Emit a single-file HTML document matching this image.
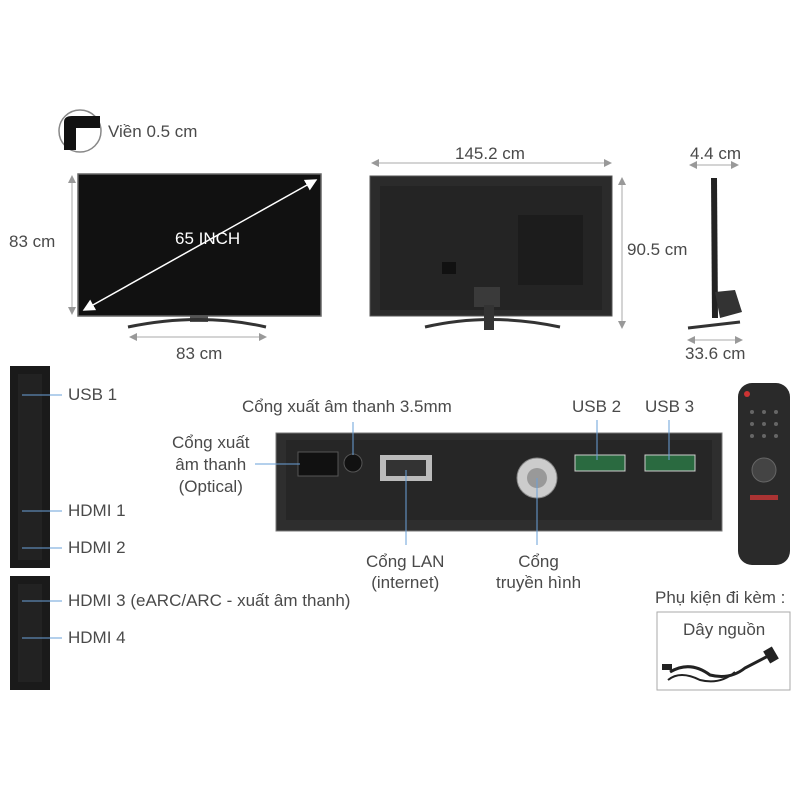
<!DOCTYPE html>
<html><head><meta charset="utf-8"><style>
body{margin:0;background:#fff;}
.w{position:relative;width:800px;height:800px;overflow:hidden;font-family:"Liberation Sans",sans-serif;color:#444;}
.t{position:absolute;font-size:17px;white-space:nowrap;color:#4a4a4a;}
</style></head><body><div class="w">
<svg width="800" height="800" style="position:absolute;left:0;top:0">
<defs><marker id="a" markerWidth="8" markerHeight="8" refX="7" refY="4" orient="auto-start-reverse"><path d="M0,0 L8,4 L0,8z" fill="#999"/></marker>
<marker id="aw" markerWidth="8" markerHeight="8" refX="7" refY="4" orient="auto-start-reverse"><path d="M0,0 L8,4 L0,8z" fill="#fff"/></marker></defs>
<rect x="78" y="174" width="243" height="142" fill="#111" stroke="#666" stroke-width="1.5"/>
<rect x="190" y="316" width="18" height="6" fill="#555"/>
<path d="M128,327 Q200,312 266,327" stroke="#333" stroke-width="3" fill="none"/>
<line x1="84" y1="310" x2="316" y2="180" stroke="#fff" stroke-width="1.5" marker-start="url(#aw)" marker-end="url(#aw)"/>
<line x1="72" y1="176" x2="72" y2="314" stroke="#aaa" marker-start="url(#a)" marker-end="url(#a)"/>
<line x1="130" y1="337" x2="266" y2="337" stroke="#aaa" marker-start="url(#a)" marker-end="url(#a)"/>
<circle cx="80" cy="131" r="21" fill="#fff" stroke="#888" stroke-width="1.5"/>
<path d="M64,150 L64,122 Q64,116 72,116 L100,116 L100,128 L76,128 L76,150z" fill="#111"/>
<rect x="370" y="176" width="242" height="140" fill="#2b2b2b" stroke="#555"/>
<rect x="380" y="186" width="222" height="124" fill="#242424"/>
<rect x="518" y="215" width="65" height="70" fill="#1c1c1c"/>
<rect x="442" y="262" width="14" height="12" fill="#111"/>
<rect x="474" y="287" width="26" height="20" fill="#3a3a3a"/>
<rect x="484" y="305" width="10" height="25" fill="#333"/>
<path d="M425,327 Q490,312 560,327" stroke="#333" stroke-width="3" fill="none"/>
<line x1="372" y1="163" x2="611" y2="163" stroke="#aaa" marker-start="url(#a)" marker-end="url(#a)"/>
<line x1="622" y1="178" x2="622" y2="328" stroke="#aaa" marker-start="url(#a)" marker-end="url(#a)"/>
<path d="M711,178 L717,178 L718,318 L712,318z" fill="#222"/>
<path d="M715,292 L735,290 L742,312 L720,318z" fill="#333"/>
<path d="M688,328 L740,322" stroke="#333" stroke-width="3"/>
<line x1="690" y1="165" x2="738" y2="165" stroke="#aaa" marker-start="url(#a)" marker-end="url(#a)"/>
<line x1="688" y1="340" x2="742" y2="340" stroke="#aaa" marker-start="url(#a)" marker-end="url(#a)"/>
<rect x="10" y="366" width="40" height="202" fill="#1a1a1a"/>
<rect x="10" y="576" width="40" height="114" fill="#1a1a1a"/>
<rect x="18" y="374" width="24" height="186" fill="#222"/>
<rect x="18" y="584" width="24" height="98" fill="#222"/>
<g stroke="#6aa0d8" stroke-width="1">
<line x1="22" y1="395" x2="62" y2="395"/><line x1="22" y1="511" x2="62" y2="511"/>
<line x1="22" y1="548" x2="62" y2="548"/><line x1="22" y1="601" x2="62" y2="601"/>
<line x1="22" y1="638" x2="62" y2="638"/></g>
<rect x="276" y="433" width="446" height="98" fill="#2e2e2e" stroke="#777"/>
<rect x="286" y="440" width="426" height="80" fill="#262626"/>
<rect x="298" y="452" width="40" height="24" fill="#111" stroke="#555"/>
<circle cx="353" cy="463" r="9" fill="#111" stroke="#555"/>
<rect x="380" y="455" width="52" height="26" fill="#bbb"/>
<rect x="386" y="460" width="40" height="16" fill="#333"/>
<circle cx="537" cy="478" r="20" fill="#ccc" stroke="#888"/>
<circle cx="537" cy="478" r="10" fill="#999"/>
<rect x="575" y="455" width="50" height="16" fill="#2a6a40" stroke="#ccc"/>
<rect x="645" y="455" width="50" height="16" fill="#2a6a40" stroke="#ccc"/>
<g stroke="#6aa0d8" stroke-width="1">
<line x1="255" y1="464" x2="300" y2="464"/><line x1="353" y1="422" x2="353" y2="455"/>
<line x1="406" y1="470" x2="406" y2="545"/><line x1="537" y1="478" x2="537" y2="545"/>
<line x1="597" y1="420" x2="597" y2="460"/><line x1="669" y1="420" x2="669" y2="460"/></g>
<rect x="738" y="383" width="52" height="182" rx="14" fill="#2a2a2a"/>
<circle cx="764" cy="470" r="12" fill="#444" stroke="#666"/>
<circle cx="747" cy="394" r="3" fill="#c33"/>
<g fill="#666"><circle cx="752" cy="412" r="2"/><circle cx="764" cy="412" r="2"/><circle cx="776" cy="412" r="2"/><circle cx="752" cy="424" r="2"/><circle cx="764" cy="424" r="2"/><circle cx="776" cy="424" r="2"/><circle cx="752" cy="436" r="2"/><circle cx="764" cy="436" r="2"/><circle cx="776" cy="436" r="2"/></g>
<rect x="750" y="495" width="28" height="5" fill="#a33"/>
<rect x="657" y="612" width="133" height="78" fill="#fff" stroke="#aaa"/>
<path d="M670,672 Q690,660 710,675 Q730,680 745,668 L770,655" stroke="#222" stroke-width="3" fill="none"/>
<path d="M668,680 Q680,670 700,680 Q720,685 735,672" stroke="#222" stroke-width="2" fill="none"/>
<rect x="766" y="648" width="10" height="14" fill="#222" transform="rotate(-30 771 655)"/>
<rect x="662" y="664" width="10" height="6" fill="#222"/>
</svg>
<div class="t" style="left:108px;top:122px">Viền 0.5 cm</div>
<div class="t" style="left:9px;top:232px">83 cm</div>
<div class="t" style="left:175px;top:229px;color:#fff">65 INCH</div>
<div class="t" style="left:176px;top:344px">83 cm</div>
<div class="t" style="left:455px;top:144px">145.2 cm</div>
<div class="t" style="left:627px;top:240px">90.5 cm</div>
<div class="t" style="left:690px;top:144px">4.4 cm</div>
<div class="t" style="left:685px;top:344px">33.6 cm</div>
<div class="t" style="left:68px;top:385px">USB 1</div>
<div class="t" style="left:68px;top:501px">HDMI 1</div>
<div class="t" style="left:68px;top:538px">HDMI 2</div>
<div class="t" style="left:68px;top:591px">HDMI 3 (eARC/ARC - xuất âm thanh)</div>
<div class="t" style="left:68px;top:628px">HDMI 4</div>
<div class="t" style="left:242px;top:397px">Cổng xuất âm thanh 3.5mm</div>
<div class="t" style="left:172px;top:432px;text-align:center;line-height:22px">Cổng xuất<br>âm thanh<br>(Optical)</div>
<div class="t" style="left:366px;top:551px;text-align:center;line-height:21px">Cổng LAN<br>(internet)</div>
<div class="t" style="left:496px;top:551px;text-align:center;line-height:21px">Cổng<br>truyền hình</div>
<div class="t" style="left:572px;top:397px">USB 2</div>
<div class="t" style="left:645px;top:397px">USB 3</div>
<div class="t" style="left:655px;top:588px">Phụ kiện đi kèm :</div>
<div class="t" style="left:683px;top:620px">Dây nguồn</div>
</div></body></html>
